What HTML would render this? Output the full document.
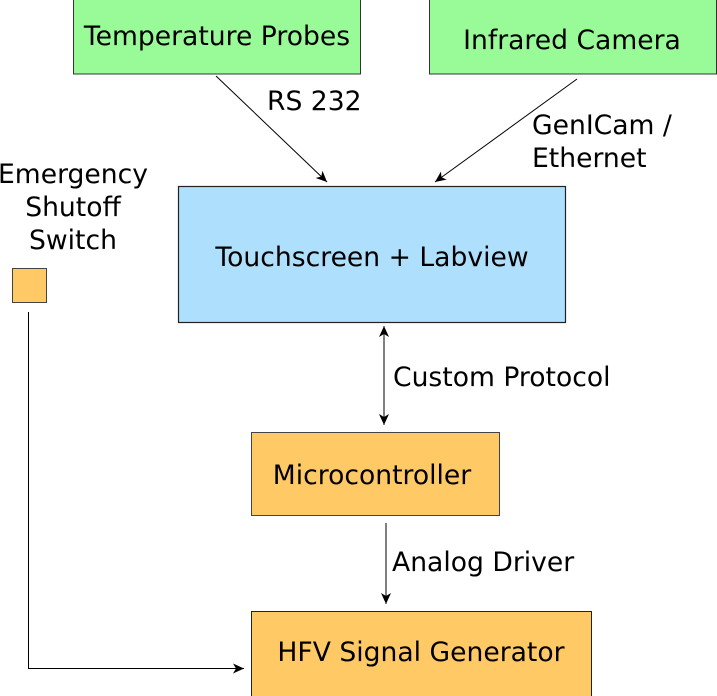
<!DOCTYPE html>
<html><head><meta charset="utf-8"><style>
html,body{margin:0;padding:0;background:#fff;}
svg{display:block;}
text{font-family:"DejaVu Sans",sans-serif;font-size:26.6px;fill:#000;}
</style></head><body>
<svg width="717" height="696" viewBox="0 0 717 696" xmlns="http://www.w3.org/2000/svg">
<defs>
<marker id="a" markerWidth="12" markerHeight="10" refX="11" refY="5" orient="auto" markerUnits="userSpaceOnUse">
<path d="M0,0 L11,5 L0,10 L3,5 Z" fill="#000"/>
</marker>
<marker id="b" markerWidth="12" markerHeight="10" refX="1" refY="5" orient="auto" markerUnits="userSpaceOnUse">
<path d="M12,0 L1,5 L12,10 L9,5 Z" fill="#000"/>
</marker>
</defs>
<rect x="73.5" y="-1" width="287" height="75" fill="#98fb98" stroke="#333" stroke-width="1"/>
<rect x="429.5" y="-1" width="287" height="75" fill="#98fb98" stroke="#333" stroke-width="1"/>
<rect x="178.5" y="186.5" width="387" height="136" fill="#aedffd" stroke="#222" stroke-width="1.2"/>
<rect x="12.5" y="268.5" width="34" height="34" fill="#ffc966" stroke="#444" stroke-width="1"/>
<rect x="251.5" y="432.5" width="248" height="83" fill="#ffc966" stroke="#444" stroke-width="1"/>
<rect x="251.5" y="611.5" width="340" height="86" fill="#ffc966" stroke="#222" stroke-width="1"/>
<text x="217" y="45" text-anchor="middle">Temperature Probes</text>
<text x="572" y="49" text-anchor="middle">Infrared Camera</text>
<text x="372" y="266" text-anchor="middle">Touchscreen + Labview</text>
<text x="372" y="484" text-anchor="middle">Microcontroller</text>
<text x="421" y="661" text-anchor="middle">HFV Signal Generator</text>
<text x="267" y="110">RS 232</text>
<text x="532" y="134">GenICam /</text>
<text x="532" y="167">Ethernet</text>
<text x="73" y="183" text-anchor="middle">Emergency</text>
<text x="73" y="216" text-anchor="middle">Shutoff</text>
<text x="73" y="249" text-anchor="middle">Switch</text>
<text x="393" y="386">Custom Protocol</text>
<text x="392" y="571">Analog Driver</text>
<line x1="216" y1="76" x2="327" y2="182" stroke="#000" stroke-width="1" marker-end="url(#a)"/>
<line x1="577" y1="79" x2="435" y2="182" stroke="#000" stroke-width="1" marker-end="url(#a)"/>
<line x1="384" y1="326" x2="384" y2="425" stroke="#000" stroke-width="1" marker-start="url(#b)" marker-end="url(#a)"/>
<line x1="386" y1="523" x2="386" y2="604" stroke="#000" stroke-width="1" marker-end="url(#a)"/>
<polyline points="28.5,312 28.5,668.5 244,668.5" fill="none" stroke="#000" stroke-width="1" marker-end="url(#a)"/>
</svg>
</body></html>
